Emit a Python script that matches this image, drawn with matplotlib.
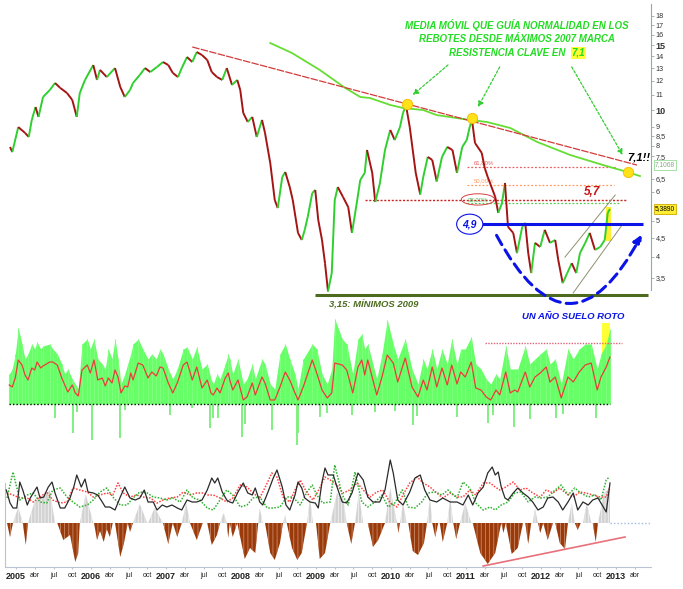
import numpy as np
import matplotlib.pyplot as plt
from matplotlib.collections import LineCollection
from matplotlib.patches import FancyArrowPatch, Rectangle
from matplotlib.ticker import NullLocator

plt.rcParams.update({
    "font.family": ["Liberation Sans", "DejaVu Sans"],
    "axes.linewidth": 0.8,
    "hatch.linewidth": 0.6,
})

# ============================================================
# Data (dates as decimal years)
# ============================================================

# price (closing path), log scale
price_t = [2004.92, 2004.95, 2005.03, 2005.12, 2005.17, 2005.21, 2005.26, 2005.30, 2005.36,
           2005.45, 2005.52, 2005.59, 2005.68, 2005.75, 2005.81, 2005.85, 2005.92,
           2006.03, 2006.08, 2006.12, 2006.21, 2006.32, 2006.39, 2006.45, 2006.52,
           2006.56, 2006.65, 2006.72, 2006.79, 2006.88, 2006.96,
           2007.03, 2007.09, 2007.16, 2007.21, 2007.28, 2007.35, 2007.41, 2007.48,
           2007.55, 2007.61, 2007.68, 2007.75, 2007.81, 2007.88, 2007.95, 2007.99,
           2008.03, 2008.09, 2008.15, 2008.21, 2008.28, 2008.32, 2008.39, 2008.45,
           2008.49, 2008.55, 2008.59, 2008.65, 2008.69, 2008.76, 2008.81, 2008.85,
           2008.89, 2008.95, 2008.99,
           2009.03, 2009.08, 2009.12, 2009.16, 2009.21, 2009.25, 2009.29, 2009.36,
           2009.43, 2009.48, 2009.55, 2009.59, 2009.65, 2009.68, 2009.75, 2009.79,
           2009.85, 2009.92, 2009.99,
           2010.05, 2010.12, 2010.16, 2010.20, 2010.25, 2010.29, 2010.33, 2010.39,
           2010.43, 2010.49, 2010.55, 2010.61, 2010.68, 2010.75, 2010.82, 2010.88,
           2010.95, 2011.01,
           2011.05, 2011.08, 2011.12, 2011.21, 2011.25, 2011.29, 2011.39, 2011.43,
           2011.48, 2011.52, 2011.56, 2011.63, 2011.68, 2011.75, 2011.79, 2011.83,
           2011.87, 2011.92, 2011.99,
           2012.05, 2012.12, 2012.19, 2012.23, 2012.29, 2012.35, 2012.41, 2012.47,
           2012.52, 2012.59, 2012.65, 2012.72, 2012.79, 2012.85, 2012.89, 2012.92]
price_v = [7.94, 7.69, 8.99, 8.67, 8.45, 9.40, 10.19, 9.58, 10.85,
           11.33, 11.84, 11.48, 11.12, 10.65, 9.58, 11.12, 12.07,
           13.25, 12.07, 12.85, 12.29, 13.00, 11.55, 10.85, 11.33,
           11.84, 12.45, 13.00, 12.68, 13.09, 13.50,
           13.25, 12.61, 12.29, 13.00, 13.93, 13.50, 14.37, 14.10,
           13.67, 12.68, 12.29, 12.07, 13.00, 11.70, 12.07, 11.33,
           9.82, 9.28, 9.58, 8.45, 9.40, 8.67, 7.18, 5.70,
           5.42, 6.58, 6.79, 6.18, 5.70, 4.64, 4.44, 4.73,
           5.13, 5.95, 6.07,
           5.03, 4.44, 3.84, 3.22, 3.61, 5.70, 6.18, 5.81,
           5.45, 4.64, 5.70, 6.46, 6.75, 7.79, 6.75, 5.63,
           6.30, 7.79, 8.83,
           8.29, 8.99, 9.82, 10.30, 8.99, 7.79, 6.75, 5.90,
           6.58, 7.46, 7.32, 6.40, 7.46, 7.94, 7.79, 6.75,
           7.94, 8.29,
           9.00, 9.40, 8.14, 7.65, 6.96, 6.58, 5.81, 5.26,
           5.59, 6.34, 4.82, 4.64, 4.09, 4.82, 4.94, 4.09,
           3.61, 4.36, 4.25,
           4.73, 4.36, 4.44, 3.92, 3.39, 3.61, 3.84, 3.61,
           4.09, 4.36, 4.64, 4.17, 4.25, 4.44, 5.26, 5.389]

# long moving average (green)
ma_t = [2008.39, 2008.68, 2009.05, 2009.39, 2009.59, 2009.72, 2009.99, 2010.16, 2010.43,
        2010.61, 2011.05, 2011.28, 2011.59, 2011.95, 2012.39, 2012.83, 2013.15, 2013.32]
ma_v = [15.2, 14.28, 12.85, 11.48, 10.85, 10.78, 10.32, 10.13, 10.0,
        9.69, 9.40, 9.28, 8.94, 8.19, 7.55, 7.09, 6.79, 6.62]

# resistance trendline and touch points
trend_t = [2007.35, 2013.28]
trend_v = [14.83, 7.09]
touch_t = [2010.21, 2011.08, 2013.16]
touch_v = [10.38, 9.52, 6.79]

# fibonacci levels
fib_levels = [7.0, 6.26, 5.60]
fib_names = ["61,80%", "50,00%", "38,20%"]
level_57 = 5.7
level_49 = 4.9
level_min = 3.15
last_close = 5.389
ma_last = 7.1068

# rising channel
chan_up_t, chan_up_v = [2012.32, 2012.99], [3.99, 5.88]
chan_lo_t, chan_lo_v = [2012.43, 2013.08], [3.19, 4.87]

# middle panel: histogram envelope and its average (red)
vol_t = [2004.91, 2004.95, 2004.99, 2005.03, 2005.08, 2005.12, 2005.16, 2005.21, 2005.25, 2005.28,
         2005.33, 2005.36, 2005.45, 2005.49, 2005.55, 2005.61, 2005.65, 2005.69, 2005.75, 2005.79,
         2005.83, 2005.88, 2005.95, 2005.99, 2006.04, 2006.09, 2006.15, 2006.19, 2006.23, 2006.28,
         2006.32, 2006.36, 2006.40, 2006.45, 2006.49, 2006.53, 2006.56, 2006.63, 2006.69, 2006.76,
         2006.81, 2006.87, 2006.92, 2006.96, 2007.03, 2007.09, 2007.15, 2007.23, 2007.28, 2007.35,
         2007.41, 2007.48, 2007.55, 2007.60, 2007.63, 2007.68, 2007.72, 2007.79, 2007.83, 2007.85,
         2007.89, 2007.96, 2008.03, 2008.08, 2008.15, 2008.19, 2008.28, 2008.32, 2008.39, 2008.45,
         2008.52, 2008.59, 2008.65, 2008.72, 2008.76, 2008.83, 2008.95, 2009.01, 2009.08, 2009.15,
         2009.21, 2009.25, 2009.35, 2009.41, 2009.49, 2009.56, 2009.61, 2009.65, 2009.69, 2009.81,
         2009.88, 2009.95, 2010.03, 2010.09, 2010.19, 2010.28, 2010.36, 2010.43, 2010.48, 2010.55,
         2010.61, 2010.68, 2010.75, 2010.81, 2010.88, 2010.93, 2010.99, 2011.07, 2011.13, 2011.20,
         2011.27, 2011.33, 2011.40, 2011.45, 2011.53, 2011.59, 2011.65, 2011.69, 2011.79, 2011.85,
         2011.92, 2011.99, 2012.07, 2012.12, 2012.19, 2012.27, 2012.36, 2012.43, 2012.51, 2012.59,
         2012.67, 2012.75, 2012.80, 2012.87, 2012.92]
vol_top = [30, 35, 50, 76, 60, 45, 50, 60, 55, 62,
           55, 58, 60, 55, 50, 40, 30, 35, 25, 20,
           15, 60, 65, 55, 65, 45, 40, 35, 55, 45,
           65, 45, 20, 30, 40, 50, 60, 65, 55, 45,
           50, 45, 55, 50, 35, 25, 35, 55, 57, 45,
           57, 35, 40, 25, 20, 30, 25, 40, 50, 45,
           30, 45, 20, 25, 40, 25, 45, 40, 20, 15,
           50, 60, 45, 30, 15, 45, 60, 55, 30, 20,
           35, 85, 65, 60, 30, 65, 70, 55, 60, 25,
           50, 84, 60, 45, 65, 35, 20, 45, 35, 55,
           35, 55, 40, 65, 40, 55, 55, 67, 40, 35,
           25, 20, 30, 25, 58, 35, 35, 35, 58, 40,
           45, 50, 55, 40, 45, 20, 55, 45, 55, 60,
           60, 35, 50, 60, 75]
vol_avg = [19, 17, 26, 44, 39, 29, 24, 36, 34, 42,
           36, 38, 42, 42, 39, 26, 19, 12, 19, 11,
           8, 34, 39, 31, 44, 24, 26, 18, 26, 21,
           34, 27, 11, 18, 17, 31, 24, 41, 39, 26,
           32, 28, 37, 36, 21, 11, 21, 39, 42, 24,
           37, 16, 24, 11, 9, 16, 11, 26, 31, 24,
           14, 24, 4, 7, 21, 9, 27, 21, 4, 4,
           17, 32, 24, 11, 4, 17, 44, 31, 14, 6,
           11, 41, 39, 34, 11, 37, 44, 29, 44, 9,
           27, 49, 41, 22, 46, 17, 7, 24, 14, 37,
           17, 36, 19, 39, 20, 32, 27, 42, 16, 14,
           7, 4, 14, 9, 32, 11, 14, 12, 32, 17,
           27, 31, 37, 22, 27, 6, 27, 22, 32, 39,
           41, 14, 27, 37, 47]
neg_t = [2005.52, 2005.76, 2005.81, 2006.01, 2006.39, 2006.45, 2007.05, 2007.35, 2007.59,
         2007.63, 2007.69, 2008.01, 2008.05, 2008.41, 2008.75, 2008.76, 2009.05, 2009.15,
         2009.48, 2009.79, 2010.05, 2010.29, 2010.35, 2010.88, 2011.29, 2011.36, 2011.64,
         2011.85, 2012.20, 2012.29, 2012.73]
neg_d = [14, 29, 8, 36, 34, 6, 11, 4, 24,
         14, 14, 33, 20, 26, 41, 29, 13, 9,
         11, 8, 7, 21, 12, 13, 19, 11, 23,
         15, 14, 10, 14]
vol_ref = 61

# bottom panel: oscillator histogram and three lines
osc_t = [2004.88, 2004.92, 2004.96, 2005.03, 2005.09, 2005.13, 2005.16, 2005.25, 2005.39, 2005.45,
         2005.52, 2005.55, 2005.63, 2005.72, 2005.79, 2005.83, 2005.85, 2005.93, 2006.03, 2006.04,
         2006.08, 2006.12, 2006.17, 2006.21, 2006.25, 2006.29, 2006.32, 2006.39, 2006.44, 2006.49,
         2006.52, 2006.56, 2006.65, 2006.75, 2006.76, 2006.85, 2006.96, 2007.03, 2007.09, 2007.15,
         2007.21, 2007.27, 2007.32, 2007.41, 2007.49, 2007.55, 2007.61, 2007.68, 2007.72, 2007.77,
         2007.81, 2007.83, 2007.85, 2007.89, 2007.95, 2008.05, 2008.12, 2008.19, 2008.23, 2008.25,
         2008.29, 2008.32, 2008.39, 2008.45, 2008.52, 2008.56, 2008.59, 2008.61, 2008.68, 2008.75,
         2008.81, 2008.88, 2008.92, 2008.96, 2009.00, 2009.05, 2009.12, 2009.19, 2009.28, 2009.36,
         2009.41, 2009.47, 2009.52, 2009.57, 2009.63, 2009.69, 2009.76, 2009.83, 2009.92, 2009.99,
         2010.08, 2010.10, 2010.12, 2010.16, 2010.21, 2010.23, 2010.29, 2010.36, 2010.44, 2010.48,
         2010.52, 2010.55, 2010.59, 2010.63, 2010.65, 2010.69, 2010.75, 2010.79, 2010.83, 2010.87,
         2010.92, 2010.99, 2011.07, 2011.09, 2011.19, 2011.29, 2011.39, 2011.47, 2011.50, 2011.53,
         2011.61, 2011.69, 2011.76, 2011.79, 2011.83, 2011.87, 2011.89, 2011.92, 2011.96, 2011.99,
         2012.03, 2012.09, 2012.16, 2012.19, 2012.25, 2012.32, 2012.36, 2012.41, 2012.45, 2012.49,
         2012.53, 2012.56, 2012.61, 2012.67, 2012.69, 2012.73, 2012.76, 2012.84, 2012.92]
osc_v = [0, -14, 0, 16, 0, -22, 0, 22, 28, 33,
         0, 0, -17, -12, -39, -30, 0, 29, 0, 0,
         -17, -8, -19, -6, -14, 0, 0, -34, -20, 0,
         -9, 0, 19, 0, 0, 15, 0, -21, 0, -14,
         0, 20, 0, -17, 0, 0, -22, -12, 0, 10,
         0, -15, 0, -14, 0, -36, -25, -30, 0, 15,
         0, 0, -30, -37, -20, 0, 8, 0, -25, -37,
         -30, 0, 25, 0, 0, -36, -30, 0, 30, 25,
         0, -21, 0, 30, 0, 0, -24, -17, 0, 35,
         0, -10, 0, 20, 0, 0, -28, -32, -20, 0,
         25, 0, -14, 0, 0, -19, 0, 25, 0, -16,
         0, 20, 0, 0, -30, -41, -30, 0, -10, 0,
         -31, -25, 0, 0, -21, 0, 0, 15, 0, -10,
         0, -17, 0, 0, -20, -26, 0, 20, 0, -7,
         0, 0, 20, 0, 0, -19, 0, 30, 35]

blk_t = [2004.87, 2004.92, 2004.96, 2005.01, 2005.05, 2005.09, 2005.15, 2005.19, 2005.23, 2005.28,
         2005.32, 2005.37, 2005.43, 2005.48, 2005.52, 2005.59, 2005.65, 2005.72, 2005.77, 2005.81,
         2005.87, 2005.92, 2005.96, 2006.03, 2006.09, 2006.15, 2006.19, 2006.25, 2006.32, 2006.39,
         2006.45, 2006.52, 2006.59, 2006.65, 2006.71, 2006.76, 2006.83, 2006.88, 2006.95, 2007.01,
         2007.08, 2007.15, 2007.21, 2007.28, 2007.35, 2007.41, 2007.48, 2007.55, 2007.61, 2007.65,
         2007.69, 2007.75, 2007.81, 2007.85, 2007.89, 2007.96, 2008.03, 2008.09, 2008.15, 2008.19,
         2008.25, 2008.29, 2008.36, 2008.43, 2008.48, 2008.55, 2008.60, 2008.65, 2008.72, 2008.76,
         2008.81, 2008.85, 2008.92, 2008.99, 2009.03, 2009.08, 2009.12, 2009.16, 2009.23, 2009.28,
         2009.35, 2009.41, 2009.48, 2009.56, 2009.63, 2009.69, 2009.76, 2009.85, 2009.92, 2009.99,
         2010.03, 2010.09, 2010.16, 2010.25, 2010.32, 2010.39, 2010.45, 2010.52, 2010.61, 2010.69,
         2010.79, 2010.88, 2010.96, 2011.03, 2011.09, 2011.16, 2011.23, 2011.29, 2011.35, 2011.39,
         2011.43, 2011.47, 2011.52, 2011.56, 2011.63, 2011.69, 2011.76, 2011.83, 2011.89, 2011.96,
         2012.03, 2012.09, 2012.16, 2012.23, 2012.29, 2012.36, 2012.43, 2012.49, 2012.56, 2012.63,
         2012.69, 2012.76, 2012.83, 2012.87, 2012.92]
blk_v = [33, 20, 15, 15, 41, 33, 18, 25, 30, 36,
         25, 26, 36, 41, 30, 15, 15, 25, 36, 48,
         36, 44, 31, 30, 28, 21, 16, 16, 13, 26,
         36, 25, 23, 25, 33, 21, 21, 13, 18, 16,
         18, 15, 13, 23, 21, 21, 23, 33, 45, 40,
         45, 31, 23, 21, 20, 31, 40, 30, 28, 35,
         21, 18, 31, 45, 53, 36, 18, 13, 28, 41,
         35, 25, 21, 20, 15, 41, 55, 48, 48, 36,
         21, 20, 30, 50, 43, 26, 21, 21, 33, 63,
         50, 23, 18, 31, 45, 48, 33, 23, 21, 25,
         21, 21, 18, 28, 18, 30, 36, 50, 56, 48,
         51, 36, 25, 23, 30, 35, 30, 26, 21, 13,
         16, 25, 26, 21, 13, 21, 30, 13, 21, 18,
         23, 25, 16, 11, 40]

red_t = [2004.88, 2004.96, 2005.05, 2005.15, 2005.23, 2005.32, 2005.41, 2005.49, 2005.59, 2005.68,
         2005.76, 2005.85, 2005.95, 2006.03, 2006.12, 2006.21, 2006.29, 2006.36, 2006.43, 2006.52,
         2006.61, 2006.69, 2006.79, 2006.88, 2006.96, 2007.05, 2007.15, 2007.23, 2007.32, 2007.41,
         2007.49, 2007.56, 2007.63, 2007.72, 2007.81, 2007.89, 2007.99, 2008.08, 2008.16, 2008.25,
         2008.35, 2008.41, 2008.48, 2008.56, 2008.65, 2008.72, 2008.79, 2008.88, 2008.96, 2009.05,
         2009.12, 2009.19, 2009.28, 2009.36, 2009.45, 2009.55, 2009.63, 2009.72, 2009.81, 2009.89,
         2009.99, 2010.08, 2010.16, 2010.25, 2010.35, 2010.43, 2010.52, 2010.61, 2010.69, 2010.79,
         2010.88, 2010.96, 2011.05, 2011.13, 2011.23, 2011.32, 2011.39, 2011.45, 2011.53, 2011.63,
         2011.72, 2011.80, 2011.89, 2011.99, 2012.07, 2012.16, 2012.25, 2012.33, 2012.43, 2012.52,
         2012.60, 2012.69, 2012.79, 2012.87, 2012.92]
red_v = [30, 28, 25, 25, 21, 26, 31, 23, 20, 21,
         35, 33, 31, 26, 28, 30, 28, 40, 30, 26,
         28, 26, 25, 20, 23, 25, 26, 31, 28, 30,
         30, 28, 28, 25, 21, 25, 38, 36, 30, 25,
         40, 50, 46, 26, 21, 33, 43, 30, 23, 35,
         46, 43, 38, 30, 33, 40, 33, 26, 31, 33,
         20, 16, 28, 40, 46, 40, 36, 30, 25, 30,
         26, 26, 33, 28, 40, 40, 36, 33, 36, 41,
         33, 35, 30, 26, 33, 30, 35, 30, 26, 31,
         30, 28, 26, 26, 36]

grn_t = [2004.88, 2004.96, 2005.05, 2005.15, 2005.23, 2005.32, 2005.41, 2005.49, 2005.59, 2005.68,
         2005.76, 2005.85, 2005.95, 2006.03, 2006.12, 2006.21, 2006.29, 2006.39, 2006.48, 2006.56,
         2006.65, 2006.75, 2006.83, 2006.92, 2007.01, 2007.09, 2007.19, 2007.28, 2007.36, 2007.45,
         2007.55, 2007.63, 2007.72, 2007.81, 2007.89, 2007.99, 2008.08, 2008.16, 2008.25, 2008.35,
         2008.43, 2008.52, 2008.61, 2008.69, 2008.79, 2008.88, 2008.95, 2009.01, 2009.09, 2009.19,
         2009.25, 2009.35, 2009.43, 2009.52, 2009.61, 2009.69, 2009.79, 2009.88, 2009.96, 2010.05,
         2010.15, 2010.23, 2010.32, 2010.41, 2010.49, 2010.59, 2010.68, 2010.76, 2010.88, 2010.96,
         2011.05, 2011.13, 2011.23, 2011.32, 2011.39, 2011.47, 2011.56, 2011.65, 2011.73, 2011.83,
         2011.92, 2012.00, 2012.09, 2012.19, 2012.27, 2012.36, 2012.45, 2012.53, 2012.63, 2012.72,
         2012.80, 2012.87, 2012.91]
grn_v = [25, 51, 23, 28, 30, 21, 20, 33, 35, 26,
         21, 16, 18, 23, 31, 35, 26, 18, 18, 25,
         31, 30, 26, 25, 23, 25, 21, 33, 25, 23,
         15, 13, 23, 33, 28, 16, 18, 25, 26, 15,
         15, 16, 26, 26, 18, 31, 38, 28, 20, 21,
         58, 28, 18, 51, 21, 16, 21, 28, 16, 20,
         33, 16, 15, 21, 30, 31, 28, 33, 25, 41,
         35, 20, 13, 16, 13, 18, 21, 30, 31, 21,
         26, 25, 26, 33, 38, 28, 35, 30, 26, 28,
         23, 43, 46]
osc_trend_t = [2011.23, 2013.12]
osc_trend_v = [-43, -14]

years = list(range(2005, 2014))
months = ["abr", "jul", "oct"]

# ============================================================
# Colours
# ============================================================

UP = "#2fcf2f"
DOWN = "#a51414"
LIME = "#22dd22"
BLUE = "#0a14e6"
OLIVE = "#4d6b1f"

XLIM = (2004.853, 2013.467)

# ============================================================
# Figure
# ============================================================

fig = plt.figure(figsize=(6.83, 5.89), dpi=100)
W, H = 683.0, 589.0


def panel(top, bottom):
    return fig.add_axes([5 / W, 1 - bottom / H, 646 / W, (bottom - top) / H])


ax_b = panel(450, 567)
ax_m = panel(310, 450)
ax_p = panel(4, 310)
for ax in (ax_p, ax_m, ax_b):
    ax.set_facecolor("none")
    ax.set_xlim(*XLIM)

# ------------------------------------------------------------
# Price panel
# ------------------------------------------------------------

ax_p.set_yscale("log")
ax_p.set_ylim(2.866, 19.4)
for s in ("top", "left", "bottom"):
    ax_p.spines[s].set_visible(False)
ax_p.spines["right"].set_color("#9aa4b0")
ax_p.spines["right"].set_bounds(3.25, 19.4)
ax_p.set_xticks([])

yt = [3.5, 4, 4.5, 5, 6, 6.5, 7.5, 8, 8.5, 9, 10, 11, 12, 13, 14, 15, 16, 17, 18]
ax_p.yaxis.set_minor_locator(NullLocator())
ax_p.yaxis.tick_right()
ax_p.set_yticks(yt)
ax_p.set_yticklabels([f"{v:g}".replace(".", ",") for v in yt])
ax_p.tick_params(axis="y", length=2, width=0.6, color="#9aa4b0", pad=1.5,
                 labelsize=5.2, labelcolor="#333333")
for lab in ax_p.get_yticklabels():
    if lab.get_text() in ("10", "15"):
        lab.set_fontsize(6.5)
        lab.set_fontweight("bold")

t = np.array(price_t)
v = np.array(price_v)
pts = np.column_stack([t, v]).reshape(-1, 1, 2)
segs = np.concatenate([pts[:-1], pts[1:]], axis=1)
cols = np.where(np.diff(v) >= 0, UP, DOWN)
ax_p.add_collection(LineCollection(segs, colors=cols, linewidths=1.4, zorder=4))

ax_p.plot(ma_t, ma_v, color="#66dd33", lw=1.3, zorder=3)
ax_p.plot(trend_t, trend_v, color="#d23a3a", lw=0.9, ls=(0, (6, 1)), zorder=3)
ax_p.scatter(touch_t, touch_v, s=55, color="#ffe11a", edgecolor="#f5b800",
             lw=0.6, zorder=6)

# fibonacci levels
fib_cols = ["#e86060", "#ff9a60", "#55cc55"]
fib_end = [2013.01, 2012.97, 2013.05]
for lvl, name, c, e in zip(fib_levels, fib_names, fib_cols, fib_end):
    ax_p.hlines(lvl, 2011.01, e, colors=c, linestyles=(0, (1.5, 1.5)), lw=0.9)
ax_p.text(2011.10, 7.08, fib_names[0], fontsize=4.3, color="#e86060", va="bottom")
ax_p.text(2011.10, 6.34, fib_names[1], fontsize=4.3, color="#ff9a60", va="bottom")
ax_p.text(2011.16, 5.72, fib_names[2], fontsize=4.3, color="#55bb55", va="center", ha="center",
          bbox=dict(boxstyle="ellipse,pad=0.25", fc="none", ec="#d94040", lw=0.7))

ax_p.hlines(level_57, 2009.65, 2013.15, colors="#cc2222", linestyles=(0, (1.5, 1.2)), lw=1.0)
ax_p.text(2012.68, 6.0, "5,7", fontsize=8.5, color="#c41414", fontweight="bold",
          fontstyle="italic", ha="center", va="center")

ax_p.hlines(level_49, 2011.21, 2013.36, colors=BLUE, lw=2.2, zorder=5)
ax_p.text(2011.05, level_49, "4,9", fontsize=7.5, color=BLUE, fontweight="bold",
          fontstyle="italic", ha="center", va="center", zorder=7,
          bbox=dict(boxstyle="ellipse,pad=0.2", fc="white", ec=BLUE, lw=0.8))

ax_p.hlines(level_min, 2008.99, 2013.43, colors=OLIVE, lw=2.2, zorder=5)
ax_p.text(2009.77, 2.975, "3,15: MÍNIMOS 2009", fontsize=6.8, color=OLIVE,
          fontweight="bold", fontstyle="italic", ha="center", va="center")

ax_p.plot(chan_up_t, chan_up_v, color="#8f8f70", lw=0.7, zorder=3)
ax_p.plot(chan_lo_t, chan_lo_v, color="#8f8f70", lw=0.7, zorder=3)

ax_p.add_patch(Rectangle((2012.866, 4.40), 0.066, 1.05, fc="#ffee33", ec="none", zorder=2))

# "un año suelo roto" arc
ax_p.add_patch(FancyArrowPatch((2011.39, 4.64), (2013.36, 4.66),
                               connectionstyle="arc3,rad=0.95", arrowstyle="-|>",
                               mutation_scale=12, color=BLUE, lw=2.2,
                               linestyle=(0, (3.5, 2)), zorder=6, clip_on=False))
ax_p.text(2012.43, 2.76, "UN AÑO SUELO ROTO", fontsize=6.8, color=BLUE,
          fontweight="bold", fontstyle="italic", ha="center", va="center")

# title-like note
note_kw = dict(fontsize=7, color=LIME, fontweight="bold", fontstyle="italic", va="center")
ax_p.text(2011.68, 17.02, "MEDIA MÓVIL QUE GUÍA NORMALIDAD EN LOS", ha="center", **note_kw)
ax_p.text(2011.68, 15.60, "REBOTES DESDE MÁXIMOS 2007 MARCA", ha="center", **note_kw)
ax_p.text(2012.33, 14.29, "RESISTENCIA CLAVE EN", ha="right", **note_kw)
ax_p.text(2012.41, 14.29, "7,1", ha="left",
          bbox=dict(boxstyle="square,pad=0.12", fc="#ffff33", ec="none"), **note_kw)

arrow_kw = dict(arrowstyle="-|>", color="#33cc33", lw=0.9, linestyle=(0, (2, 1.5)),
                mutation_scale=8, shrinkA=0, shrinkB=0)
for (x0, y0), (x1, y1) in [((2010.76, 13.25), (2010.29, 10.99)),
                           ((2011.45, 13.09), (2011.16, 10.19)),
                           ((2012.41, 13.09), (2013.09, 7.55))]:
    ax_p.annotate("", xy=(x1, y1), xytext=(x0, y0), arrowprops=arrow_kw)

ax_p.text(2013.31, 7.45, "7,1!!", fontsize=8, color="black", fontweight="bold",
          fontstyle="italic", ha="center", va="center")

# value boxes on the price axis
ax_p.text(2013.52, ma_last, f"{ma_last:.4f}".replace(".", ","), fontsize=4.8,
          color="#88a888", ha="left", va="center", clip_on=False,
          bbox=dict(boxstyle="square,pad=0.2", fc="white", ec="#99dd99", lw=0.6))
ax_p.text(2013.52, last_close, f"{last_close:.4f}".replace(".", ","), fontsize=4.8,
          color="black", ha="left", va="center", clip_on=False,
          bbox=dict(boxstyle="square,pad=0.2", fc="#ffee33", ec="#ccaa00", lw=0.6))

# ------------------------------------------------------------
# Middle panel
# ------------------------------------------------------------

ax_m.set_ylim(-46, 94)
ax_m.axis("off")
ax_m.add_patch(Rectangle((2012.813, 0), 0.107, 81, fc="#ffff33", ec="none", zorder=0))
ax_m.fill_between(vol_t, 0, vol_top, color="#66ff66", lw=0, zorder=1)
ax_m.vlines(vol_t, 0, vol_top, color="#7dff7d", lw=0.8, zorder=1)
ax_m.vlines(neg_t, 0, -np.array(neg_d), color="#80f080", lw=1.4, zorder=1)
ax_m.plot(vol_t, vol_avg, color="#ee3b3b", lw=0.9, zorder=3)
ax_m.hlines(0, vol_t[0], vol_t[-1], colors="black", linestyles=(0, (1, 1.5)), lw=1.0, zorder=4)
ax_m.hlines(vol_ref, 2011.25, 2013.08, colors="#dd6677", linestyles=(0, (1, 1)), lw=1.0)

# ------------------------------------------------------------
# Bottom panel
# ------------------------------------------------------------

ax_b.set_ylim(-44, 73)
osc = np.array(osc_v)
ax_b.fill_between(osc_t, 0, osc, where=osc >= 0, interpolate=True,
                  facecolor="#d2d2d2", edgecolor="#f2f2f2", hatch="|||||", lw=0, zorder=1)
ax_b.fill_between(osc_t, 0, osc, where=osc <= 0, interpolate=True,
                  facecolor="#9a3a0a", edgecolor="#c88866", hatch="||||", lw=0, zorder=1)
ax_b.plot(red_t, red_v, color="#ff4040", lw=1.1, ls=(0, (1, 1)), zorder=2)
ax_b.plot(grn_t, grn_v, color="#2fb02f", lw=1.1, ls=(0, (1, 1)), zorder=2)
ax_b.plot(blk_t, blk_v, color="#2a2a2a", lw=0.9, zorder=3)
ax_b.hlines(0, 2012.92, 2013.45, colors="#9fbbe0", linestyles=(0, (1, 1.5)), lw=1.0)
ax_b.plot(osc_trend_t, osc_trend_v, color="#e8707a", lw=1.2, zorder=3)

for s in ("top", "right"):
    ax_b.spines[s].set_visible(False)
ax_b.spines["left"].set_bounds(-44, 40)
ax_b.spines["left"].set_color("#b8c4d4")
ax_b.spines["bottom"].set_color("#b8c4d4")
ax_b.set_yticks([])

tick_pos, tick_lab = [], []
for yr in years:
    tick_pos.append(yr)
    tick_lab.append(str(yr))
    for q, m in enumerate(months, start=1):
        if yr + q / 4 < XLIM[1] - 0.1:
            tick_pos.append(yr + q / 4)
            tick_lab.append(m)
ax_b.set_xticks(tick_pos)
ax_b.set_xticklabels(tick_lab)
ax_b.tick_params(axis="x", length=1.5, color="#b8c4d4", pad=2, labelsize=5.0,
                 labelcolor="#222222")
for lab in ax_b.get_xticklabels():
    if lab.get_text().isdigit():
        lab.set_fontsize(6.5)
        lab.set_fontweight("bold")

fig.savefig("out.png", dpi=100)
